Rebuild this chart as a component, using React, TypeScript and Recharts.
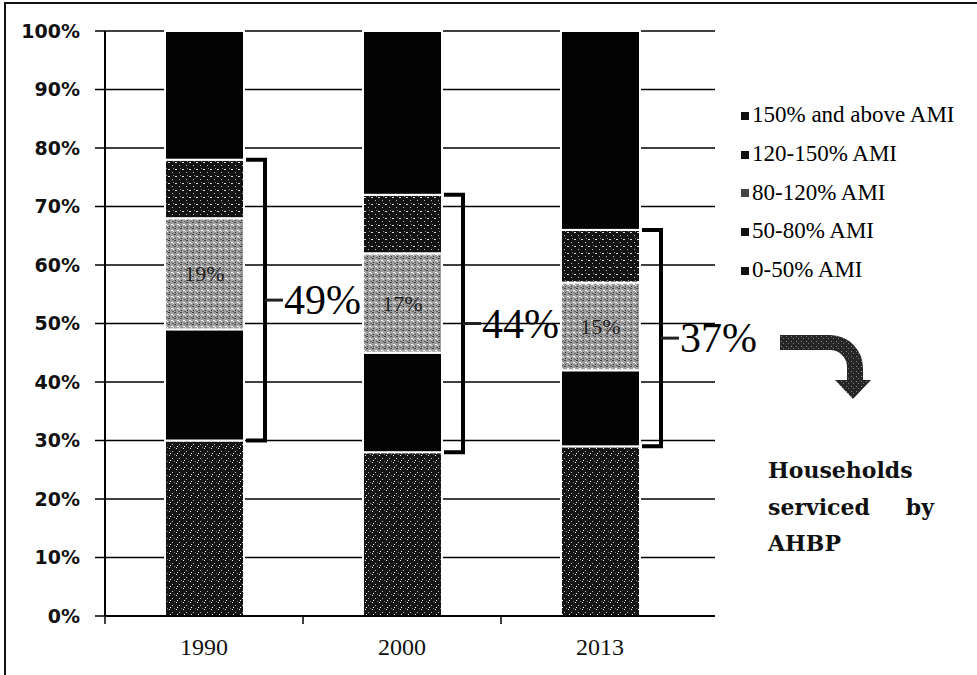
import React from 'react';
import { BarChart, Bar, XAxis, YAxis, CartesianGrid, LabelList } from 'recharts';

// ---- data ----
const years = ['1990', '2000', '2013'];
const ami0to50 = [30, 28, 29];
const ami50to80 = [19, 17, 13];
const ami80to120 = [19, 17, 15];
const ami120to150 = [10, 10, 9];
const ami150plus = [22, 28, 34];
const bracketLabels = ['49%', '44%', '37%'];
const yTicks = [0, 10, 20, 30, 40, 50, 60, 70, 80, 90, 100];
const seriesKeys = ['a', 'b', 'c', 'd', 'e'];
const seriesNames = ['0-50% AMI', '50-80% AMI', '80-120% AMI', '120-150% AMI', '150% and above AMI'];
const seriesFills = ['url(#p050)', 'url(#p5080)', 'url(#p80120)', 'url(#p120150)', 'url(#p150)'];
const noteLines = ['Households', 'serviced by', 'AHBP'];

const data = years.map((year, i) => ({
  year,
  a: ami0to50[i],
  b: ami50to80[i],
  c: ami80to120[i],
  d: ami120to150[i],
  e: ami150plus[i],
  bracket: bracketLabels[i],
}));

// ---- layout constants ----
const W = 977;
const H = 675;
const PLOT_LEFT = 105;
const PLOT_RIGHT = 715;
const PAD_RIGHT = 16;
const BAND = (PLOT_RIGHT - PLOT_LEFT - PAD_RIGHT) / years.length;
const SERIF = '"Liberation Serif", "Times New Roman", serif';
const SANS = '"DejaVu Sans", Verdana, sans-serif';

const Patterns = () => (
  <svg width={0} height={0} style={{ position: 'absolute' }}>
    <defs>
      <pattern id="p050" width={7} height={7} patternUnits="userSpaceOnUse">
        <rect width={7} height={7} fill="#151515" />
        <rect x={1} y={0} width={1} height={1} fill="#eee" />
        <rect x={4} y={3} width={1} height={1} fill="#bbb" />
        <rect x={2} y={5} width={1} height={1} fill="#fff" />
        <rect x={6} y={6} width={1} height={1} fill="#777" />
      </pattern>
      <pattern id="p5080" width={6} height={6} patternUnits="userSpaceOnUse">
        <rect width={6} height={6} fill="#030303" />
      </pattern>
      <pattern id="p80120" width={6} height={6} patternUnits="userSpaceOnUse">
        <rect width={6} height={6} fill="#9e9e9e" />
        <rect x={0} y={0} width={2} height={1} fill="#444" />
        <rect x={3} y={2} width={2} height={1} fill="#fff" />
        <rect x={1} y={4} width={1} height={1} fill="#333" />
        <rect x={4} y={5} width={2} height={1} fill="#666" />
        <rect x={5} y={3} width={1} height={1} fill="#eee" />
      </pattern>
      <pattern id="p120150" width={7} height={7} patternUnits="userSpaceOnUse">
        <rect width={7} height={7} fill="#121212" />
        <rect x={0} y={1} width={2} height={1} fill="#ddd" />
        <rect x={4} y={4} width={1} height={1} fill="#bbb" />
        <rect x={5} y={0} width={1} height={1} fill="#888" />
      </pattern>
      <pattern id="p150" width={6} height={6} patternUnits="userSpaceOnUse">
        <rect width={6} height={6} fill="#030303" />
      </pattern>
      <pattern id="parrow" width={5} height={5} patternUnits="userSpaceOnUse">
        <rect width={5} height={5} fill="#262626" />
        <rect x={1} y={1} width={1} height={1} fill="#888" />
        <rect x={3} y={3} width={1} height={1} fill="#777" />
      </pattern>
    </defs>
  </svg>
);

const PlainShape = (props: any) => {
  const { x, y, width, height, fill } = props;
  return <rect x={x} y={y} width={width} height={height} fill={fill} stroke="#fff" strokeWidth={2} />;
};

const BracketShape = (props: any) => {
  const { x, y, width, height, fill, payload } = props;
  const per = height / payload.d;
  const bottom = y + (payload.d + payload.c + payload.b) * per;
  const right = x + width;
  const vx = right + 21;
  const mid = (y + bottom) / 2;
  return (
    <g>
      <rect x={x} y={y} width={width} height={height} fill={fill} stroke="#fff" strokeWidth={2} />
      <path
        d={`M${right + 2},${y} H${vx} V${bottom} H${right + 2}`}
        stroke="#000"
        strokeWidth={4}
        fill="none"
      />
      <line x1={vx} y1={mid} x2={vx + 18} y2={mid} stroke="#222" strokeWidth={3} />
      <text
        x={vx + 19}
        y={mid}
        dominantBaseline="central"
        style={{ fontFamily: SERIF, fontSize: 42 }}
        fill="#000"
      >
        {payload.bracket}
      </text>
    </g>
  );
};

const XTick = (props: any) => {
  const { x, y, payload } = props;
  const axisY = y - 8;
  return (
    <g>
      <line x1={x - BAND / 2} x2={x - BAND / 2} y1={axisY} y2={axisY + 8} stroke="#000" strokeWidth={1.5} />
      <text x={x} y={axisY + 31} textAnchor="middle" dominantBaseline="central" style={{ fontFamily: SERIF, fontSize: 24 }} fill="#111">
        {payload.value}
      </text>
    </g>
  );
};

const MidLabel = (props: any) => {
  const { x, y, width, height, value } = props;
  return (
    <text
      x={x + width / 2}
      y={y + height / 2}
      textAnchor="middle"
      dominantBaseline="central"
      style={{ fontFamily: SERIF, fontSize: 22 }}
      fill="#222"
    >
      {value}%
    </text>
  );
};

export default function App() {
  const legendOrder = [4, 3, 2, 1, 0];
  return (
    <div style={{ position: 'absolute', left: 0, top: 0, width: W, height: H, background: '#fff', overflow: 'hidden' }}>
      <Patterns />
      {/* frame */}
      <div style={{ position: 'absolute', left: 4, top: 2, width: W, height: H, borderLeft: '2px solid #111', borderTop: '2px solid #111' }} />
      <BarChart
        width={W}
        height={H}
        data={data}
        margin={{ top: 31, right: W - PLOT_RIGHT, bottom: 19, left: 0 }}
      >
        <CartesianGrid vertical={false} stroke="#000" strokeWidth={1.5} />
        <XAxis
          dataKey="year"
          height={40}
          padding={{ left: 0, right: PAD_RIGHT }}
          axisLine={{ stroke: '#000', strokeWidth: 2 }}
          tickLine={false}
          tickSize={8}
          tickMargin={0}
          tick={<XTick />}
          interval={0}
        />
        <YAxis
          width={PLOT_LEFT}
          domain={[0, 100]}
          ticks={yTicks}
          interval={0}
          tickFormatter={(v: number) => `${v}%`}
          axisLine={{ stroke: '#000', strokeWidth: 2 }}
          tickLine={{ stroke: '#000', strokeWidth: 1.5 }}
          tickSize={10}
          tickMargin={15}
          tick={{ fontFamily: SANS, fontSize: 19, fontWeight: 'bold', fill: '#111' }}
        />
        <Bar dataKey="a" stackId="s" fill={seriesFills[0]} barSize={79} shape={<PlainShape />} isAnimationActive={false} />
        <Bar dataKey="b" stackId="s" fill={seriesFills[1]} barSize={79} shape={<PlainShape />} isAnimationActive={false} />
        <Bar dataKey="c" stackId="s" fill={seriesFills[2]} barSize={79} shape={<PlainShape />} isAnimationActive={false}>
          <LabelList dataKey="c" content={<MidLabel />} />
        </Bar>
        <Bar dataKey="d" stackId="s" fill={seriesFills[3]} barSize={79} shape={<BracketShape />} isAnimationActive={false} />
        <Bar dataKey="e" stackId="s" fill={seriesFills[4]} barSize={79} shape={<PlainShape />} isAnimationActive={false} />
      </BarChart>

      {/* legend */}
      <div style={{ position: 'absolute', left: 741, top: 96 }}>
        {legendOrder.map((i) => (
          <div key={seriesKeys[i]} style={{ display: 'flex', alignItems: 'center', height: 38.7 }}>
            <svg width={9} height={9} style={{ marginRight: 2 }}>
              <rect x={0} y={1} width={8} height={8} fill={seriesFills[i] === 'url(#p80120)' ? '#444' : '#111'} />
            </svg>
            <span style={{ fontFamily: SERIF, fontSize: 23, color: '#000', whiteSpace: 'nowrap' }}>{seriesNames[i]}</span>
          </div>
        ))}
      </div>

      {/* arrow */}
      <svg width={W} height={H} style={{ position: 'absolute', left: 0, top: 0, pointerEvents: 'none' }}>
        <path
          d="M780,335 H830 A33,33 0 0 1 863,368 V380 H871 L853,399 L835,380 H847 V367 A17,17 0 0 0 830,350 H780 Z"
          fill="url(#parrow)"
        />
      </svg>

      {/* note */}
      <div style={{ position: 'absolute', left: 768, top: 452, width: 166, fontFamily: '"DejaVu Serif", serif', fontWeight: 'bold', fontSize: 22, color: '#111', lineHeight: '36.5px' }}>
        <div>{noteLines[0]}</div>
        <div style={{ display: 'flex', justifyContent: 'space-between' }}>
          {noteLines[1].split(' ').map((w) => (
            <span key={w}>{w}</span>
          ))}
        </div>
        <div>{noteLines[2]}</div>
      </div>
    </div>
  );
}
